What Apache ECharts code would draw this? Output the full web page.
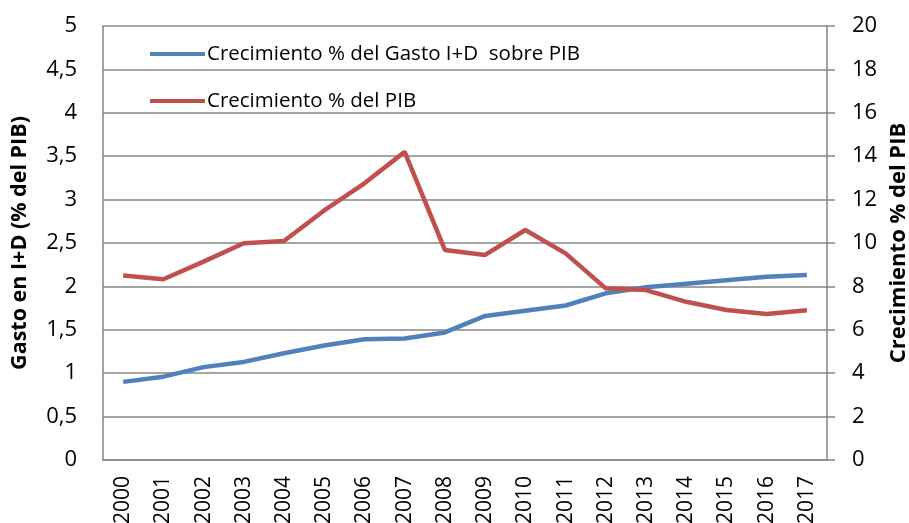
<!DOCTYPE html>
<html>
<head>
<meta charset="utf-8">
<script src="https://cdn.jsdelivr.net/npm/echarts@6/dist/echarts.min.js"></script>
<style>
  html, body { margin: 0; padding: 0; background: #fff; }
  #chart { width: 909px; height: 523px; }
</style>
</head>
<body>
<div id="chart"></div>
<script>
// años
const years = ["2000", "2001", "2002", "2003", "2004", "2005", "2006", "2007", "2008",
  "2009", "2010", "2011", "2012", "2013", "2014", "2015", "2016", "2017"];

// gasto en I+D (% del PIB), eje izquierdo
const gastoID = [0.90, 0.96, 1.07, 1.13, 1.23, 1.32, 1.39, 1.40, 1.47,
  1.66, 1.72, 1.78, 1.92, 1.99, 2.03, 2.07, 2.11, 2.13];

// crecimiento % del PIB, eje derecho
const crecPIB = [8.5, 8.33, 9.14, 9.99, 10.09, 11.5, 12.75, 14.2, 9.68,
  9.45, 10.6, 9.52, 7.91, 7.83, 7.29, 6.91, 6.73, 6.9];

const seriesNames = ["Crecimiento % del Gasto I+D  sobre PIB", "Crecimiento % del PIB"];

const FONT = "Open Sans";
const gridColor = "#868686";

const chart = echarts.init(document.getElementById("chart"));

chart.setOption({
  animation: false,
  textStyle: { fontFamily: FONT },
  color: ["#4F81BD", "#C0504D"],
  grid: { left: 103, right: 82, top: 26, bottom: 63, outerBoundsMode: "none", containLabel: false },
  legend: {
    orient: "vertical",
    left: 145,
    top: 37,
    icon: "rect",
    itemWidth: 55,
    itemHeight: 4,
    itemGap: 23,
    textStyle: { fontSize: 20.5, color: "#000", padding: [0, 0, 0, -3], lineHeight: 24 },
    data: seriesNames
  },
  xAxis: {
    type: "category",
    data: years,
    boundaryGap: true,
    axisLine: { lineStyle: { color: gridColor, width: 1.5 } },
    axisTick: { show: false },
    axisLabel: { rotate: 90, fontSize: 21, color: "#000", margin: 16 }
  },
  yAxis: [
    {
      type: "value",
      min: 0,
      max: 5,
      interval: 0.5,
      name: "Gasto en I+D (% del PIB)",
      nameLocation: "middle",
      nameGap: 72,
      nameTextStyle: { fontSize: 21.5, fontWeight: "bold", color: "#000" },
      axisLine: { show: true, lineStyle: { color: gridColor, width: 1.5 } },
      axisTick: { show: false },
      splitLine: { lineStyle: { color: gridColor, width: 1.5 } },
      axisLabel: {
        fontSize: 22,
        color: "#000",
        margin: 26,
        formatter: (v) => String(v).replace(".", ",")
      }
    },
    {
      type: "value",
      min: 0,
      max: 20,
      interval: 2,
      name: "Crecimiento % del PIB",
      nameLocation: "middle",
      nameGap: 60,
      nameRotate: 90,
      nameTextStyle: { fontSize: 22, fontWeight: "bold", color: "#000" },
      axisLine: { show: true, lineStyle: { color: gridColor, width: 1.5 } },
      axisTick: { show: true, length: 8, lineStyle: { color: gridColor, width: 1.5 } },
      splitLine: { show: false },
      axisLabel: { fontSize: 22, color: "#000", margin: 25 }
    }
  ],
  series: [
    {
      name: seriesNames[0],
      type: "line",
      yAxisIndex: 0,
      data: gastoID,
      showSymbol: false,
      lineStyle: { width: 4.5 }
    },
    {
      name: seriesNames[1],
      type: "line",
      yAxisIndex: 1,
      data: crecPIB,
      showSymbol: false,
      lineStyle: { width: 4.5 }
    }
  ]
});
</script>
</body>
</html>
